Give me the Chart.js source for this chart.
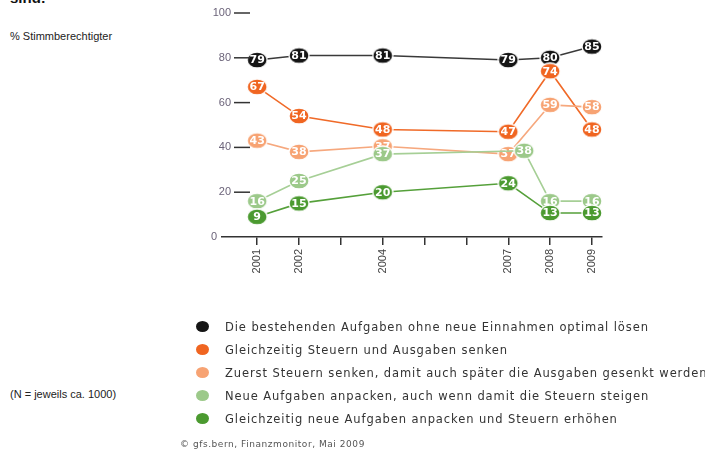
<!DOCTYPE html>
<html lang="de">
<head>
<meta charset="utf-8">
<script src="https://cdn.jsdelivr.net/npm/chart.js@4.4.0/dist/chart.umd.min.js"></script>
<style>
  html, body { margin: 0; padding: 0; background: #fff; }
  body { width: 705px; height: 452px; position: relative; overflow: hidden; font-family: "Liberation Sans", Arial, sans-serif; }
  #chartBox { position: absolute; left: 0; top: 0; width: 705px; height: 452px; }
  .side { position: absolute; left: 10px; font-size: 11px; color: #222; }
  .cut { position: absolute; left: 10px; top: -11px; font-size: 15px; font-weight: bold; color: #111; }
  #legend { position: absolute; left: 196px; top: 315px; white-space: nowrap; }
  .row { height: 23px; display: flex; align-items: center; font-family: "DejaVu Sans", sans-serif; font-size: 11.5px; color: #333; letter-spacing: 0.9px; }
  .dot { width: 13px; height: 11px; border-radius: 50%; margin-right: 16px; flex: none; }
  .source { position: absolute; left: 180px; top: 439px; font-family: "DejaVu Sans", sans-serif; font-size: 9px; letter-spacing: 0.55px; color: #555; }
</style>
</head>
<body>
<div class="cut">sind:</div>
<div class="side" style="top: 30px;">% Stimmberechtigter</div>
<div class="side" style="top: 388px;">(N = jeweils ca. 1000)</div>
<div id="chartBox"><canvas id="chart"></canvas></div>
<div id="legend"></div>
<div class="source">© gfs.bern, Finanzmonitor, Mai 2009</div>
<script>
// Survey years and answers (% of voters)
const years = [2001, 2002, 2004, 2007, 2008, 2009];
const allYears = [2001, 2002, 2003, 2004, 2005, 2006, 2007, 2008, 2009];
const labeledYears = [2001, 2002, 2004, 2007, 2008, 2009];
const yTicks = [0, 20, 40, 60, 80, 100];

const seriesNames = [
    "Die bestehenden Aufgaben ohne neue Einnahmen optimal lösen",
    "Gleichzeitig Steuern und Ausgaben senken",
    "Zuerst Steuern senken, damit auch später die Ausgaben gesenkt werden",
    "Neue Aufgaben anpacken, auch wenn damit die Steuern steigen",
    "Gleichzeitig neue Aufgaben anpacken und Steuern erhöhen"
];
const bestehende = [79, 81, 81, 79, 80, 85];
const beideSenken = [67, 54, 48, 47, 74, 48];
const zuerstSenken = [43, 38, 37, 37, 59, 58];
const neueAufgaben = [16, 25, 37, 38, 16, 16];
const beideErhoehen = [9, 15, 20, 24, 13, 13];

const markerColors = ["#151515", "#f06521", "#f7a373", "#9cc98a", "#4b9a30"];
const lineColors = ["#3a3a3a", "#f06a28", "#f6a87e", "#a6cf96", "#55a03a"];

// In the original a few labels are nudged so overlapping markers stay readable
const nudges = {
    2: { 2: { dy: 3.5 } },               // light orange 37 in 2004 sits above the green 37
    3: { 3: { dx: 0.38, dy: 0.5 } },     // light green 38 in 2007 sits right of the orange 37
    4: { 4: { dy: -2.3 }, 5: { dy: -2.3 } } // dark green 13s sit below the light green 16s
};

// Oval marker image with thin white rim
function makeMarker(color) {
    const c = document.createElement("canvas");
    c.width = 22;
    c.height = 18;
    const g = c.getContext("2d");
    g.beginPath();
    g.ellipse(11, 9, 10, 8, 0, 0, Math.PI * 2);
    g.fillStyle = color;
    g.fill();
    g.lineWidth = 1.3;
    g.strokeStyle = "#ffffff";
    g.stroke();
    return c;
}

const allValues = [bestehende, beideSenken, zuerstSenken, neueAufgaben, beideErhoehen];

const datasets = allValues.map((vals, i) => ({
    label: seriesNames[i],
    data: vals.map((v, j) => {
        const n = (nudges[i] && nudges[i][j]) || {};
        return { x: years[j] + (n.dx || 0), y: v + (n.dy || 0), v: v };
    }),
    borderColor: lineColors[i],
    borderWidth: 1.6,
    tension: 0,
    pointStyle: makeMarker(markerColors[i]),
    pointRadius: 9,
    pointHoverRadius: 9,
    clip: false,
    order: allValues.length - i
}));

// White numbers inside each marker, drawn per dataset so layering matches
const valueLabels = {
    id: "valueLabels",
    afterDatasetDraw(chart, args) {
        const ctx = chart.ctx;
        const ds = chart.data.datasets[args.index];
        ctx.save();
        ctx.font = "bold 11px 'DejaVu Sans', sans-serif";
        ctx.fillStyle = "#ffffff";
        ctx.textAlign = "center";
        ctx.textBaseline = "middle";
        args.meta.data.forEach((pt, j) => {
            ctx.fillText(String(ds.data[j].v), pt.x, pt.y + 0.5);
        });
        ctx.restore();
    }
};

// Y labels with small dashes, as in the print layout
const yLabels = {
    id: "yLabels",
    afterDraw(chart) {
        const ctx = chart.ctx;
        const y = chart.scales.y;
        const left = chart.chartArea.left;
        ctx.save();
        ctx.font = "11px 'Liberation Sans', Arial, sans-serif";
        ctx.fillStyle = "#6b6379";
        ctx.textAlign = "right";
        ctx.textBaseline = "middle";
        ctx.strokeStyle = "#333";
        ctx.lineWidth = 1.5;
        yTicks.forEach(v => {
            const py = y.getPixelForValue(v);
            if (v === 0) {
                ctx.fillText("0", left - 5, py);
                return;
            }
            ctx.fillText(String(v), left + 9, py);
            ctx.beginPath();
            ctx.moveTo(left + 12, py);
            ctx.lineTo(left + 28, py);
            ctx.stroke();
        });
        ctx.restore();
    }
};

new Chart(document.getElementById("chart").getContext("2d"), {
    type: "line",
    data: { datasets: datasets },
    options: {
        responsive: true,
        maintainAspectRatio: false,
        animation: false,
        layout: { padding: { left: 222, right: 103, top: 13, bottom: 0 } },
        plugins: {
            legend: { display: false },
            tooltip: { enabled: false }
        },
        scales: {
            x: {
                type: "linear",
                min: 2000.16,
                max: 2009.24,
                afterBuildTicks: s => { s.ticks = allYears.map(v => ({ value: v })); },
                afterFit: s => { s.height = 215; },
                grid: {
                    drawOnChartArea: false,
                    drawTicks: true,
                    tickLength: 8,
                    color: "#333",
                    lineWidth: 1.5
                },
                border: { display: true, color: "#333", width: 1.5 },
                ticks: {
                    autoSkip: false,
                    minRotation: 90,
                    maxRotation: 90,
                    padding: 4,
                    color: "#444",
                    font: { family: "'Liberation Sans', Arial, sans-serif", size: 11 },
                    callback: v => labeledYears.includes(v) ? String(v) : ""
                }
            },
            y: {
                display: false,
                min: 0,
                max: 100
            }
        }
    },
    plugins: [valueLabels, yLabels]
});

// Legend as a plain column below the chart
const legend = document.getElementById("legend");
seriesNames.forEach((name, i) => {
    const row = document.createElement("div");
    row.className = "row";
    row.innerHTML = '<span class="dot" style="background:' + markerColors[i] + '"></span>' + name;
    legend.appendChild(row);
});
</script>
</body>
</html>
